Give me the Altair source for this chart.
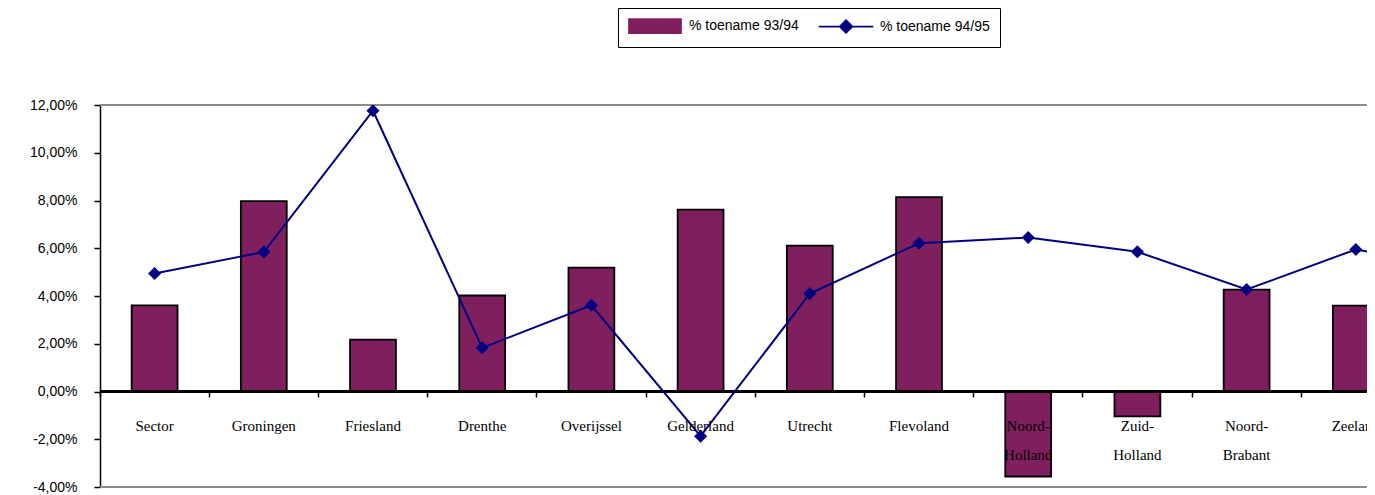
import altair as alt
import pandas as pd

categories = ["Sector", "Groningen", "Friesland", "Drenthe", "Overijssel",
              "Gelderland", "Utrecht", "Flevoland", "Noord-Holland",
              "Zuid-Holland", "Noord-Brabant", "Zeeland", "Limburg"]
series_names = ["% toename 93/94", "% toename 94/95"]
toename_93_94 = [3.61, 7.97, 2.17, 4.02, 5.19, 7.62, 6.11, 8.14, -3.56, -1.04, 4.27, 3.60, None]
toename_94_95 = [4.94, 5.84, 11.76, 1.83, 3.61, -1.87, 4.10, 6.21, 6.45, 5.85, 4.27, 5.95, 5.10]
y_ticks = [-0.04, -0.02, 0.0, 0.02, 0.04, 0.06, 0.08, 0.10, 0.12]

rows = []
for c, a, b in zip(categories, toename_93_94, toename_94_95):
    rows.append({"cat": c, "series": series_names[0], "v": None if a is None else a / 100})
    rows.append({"cat": c, "series": series_names[1], "v": None if b is None else b / 100})
df = pd.DataFrame(rows)

PURPLE = "#801F5E"
NAVY = "#000080"
BAND = 109.2

x_scale = alt.Scale(domain=categories, range=[0, BAND * len(categories)],
                    paddingInner=0, paddingOuter=0)
y_scale = alt.Scale(domain=[-0.04, 0.12], nice=False, zero=False)

color_scale = alt.Scale(domain=series_names, range=[PURPLE, NAVY])

is_bar = "datum.value === '% toename 93/94'"
legend = alt.Legend(
    title=None, orient="none", direction="horizontal",
    legendX=518, legendY=-97,
    fillColor="white", strokeColor="black",
    padding=10, columnPadding=16,
    labelFont="Liberation Sans", labelFontSize=14, labelColor="black",
    labelOffset=26, symbolSize=196, symbolOffset=19,
    symbolStrokeWidth=1.8, symbolOpacity=1,
    symbolType=alt.ExprRef(expr=is_bar + " ? 'M-3.71,-1H3.71V1H-3.71Z' : 'M-3.9,0H3.9M-0.9,0L0,-0.9L0.9,0L0,0.9Z'"),
    symbolFillColor=alt.ExprRef(expr=is_bar + " ? '#801F5E' : '#000080'"),
    symbolStrokeColor=alt.ExprRef(expr=is_bar + " ? 'black' : '#000080'"),
)

x_enc = alt.X("cat:N", scale=x_scale, sort=categories, title=None,
              axis=alt.Axis(orient="bottom", offset=-96, domain=False, zindex=1,
                            ticks=True, tickColor="black", tickSize=6, tickWidth=1.5,
                            bandPosition=0, labelAngle=0,
                            labelFont="Liberation Serif", labelFontSize=15,
                            labelColor="black", labelPadding=21,
                            labelBaseline="top", labelLineHeight=29,
                            labelLimit=200, labelOverlap=False,
                            labelExpr="indexof(datum.label, '-') > 0 ? [substring(datum.label, 0, indexof(datum.label, '-') + 1), substring(datum.label, indexof(datum.label, '-') + 1)] : datum.label"))

y_enc = alt.Y("v:Q", scale=y_scale, title=None,
              axis=alt.Axis(values=y_ticks, grid=False, domainColor="black",
                            domainWidth=1.5, tickColor="black", tickSize=6,
                            tickWidth=1.5, labelFont="Liberation Sans",
                            labelFontSize=14, labelColor="black", labelPadding=17,
                            labelOverlap=False,
                            labelExpr="replace(replace(format(datum.value, '.2%'), '.', ','), '\u2212', '-')"))

base = alt.Chart(df)

border_top = base.mark_rule(color="#8C8C8C", strokeWidth=2).encode(y=alt.datum(0.12))
border_bottom = base.mark_rule(color="#8C8C8C", strokeWidth=2).encode(y=alt.datum(-0.04))

bars = base.transform_filter(
    alt.datum.series == series_names[0]
).mark_bar(stroke="black", strokeWidth=1.8, width=alt.RelativeBandSize(0.42), clip=True).encode(
    x=x_enc, y=y_enc,
    color=alt.Color("series:N", scale=color_scale, legend=legend),
)

zero_line = base.mark_rule(color="black", strokeWidth=1.5).encode(y=alt.datum(0))

line = base.transform_filter(
    alt.datum.series == series_names[1]
).mark_line(strokeWidth=2, clip=True).encode(
    x=alt.X("cat:N", sort=categories),
    y="v:Q",
    color=alt.Color("series:N", scale=color_scale, legend=legend),
)

points = base.transform_filter(
    alt.datum.series == series_names[1]
).mark_point(shape="diamond", filled=True, size=170, opacity=1, clip=True).encode(
    x=alt.X("cat:N", sort=categories),
    y="v:Q",
    color=alt.value(NAVY),
)

chart = alt.layer(border_top, border_bottom, bars, zero_line, line, points).properties(
    width=1267, height=382,
    autosize=alt.AutoSizeParams(type="none"),
    padding={"left": 92, "top": 97, "right": 0, "bottom": 7},
).configure_view(
    fill="#E1E1E1", stroke=None
).configure(background="white")

chart.save("out.html", embed_options={"renderer": "svg", "actions": False})
